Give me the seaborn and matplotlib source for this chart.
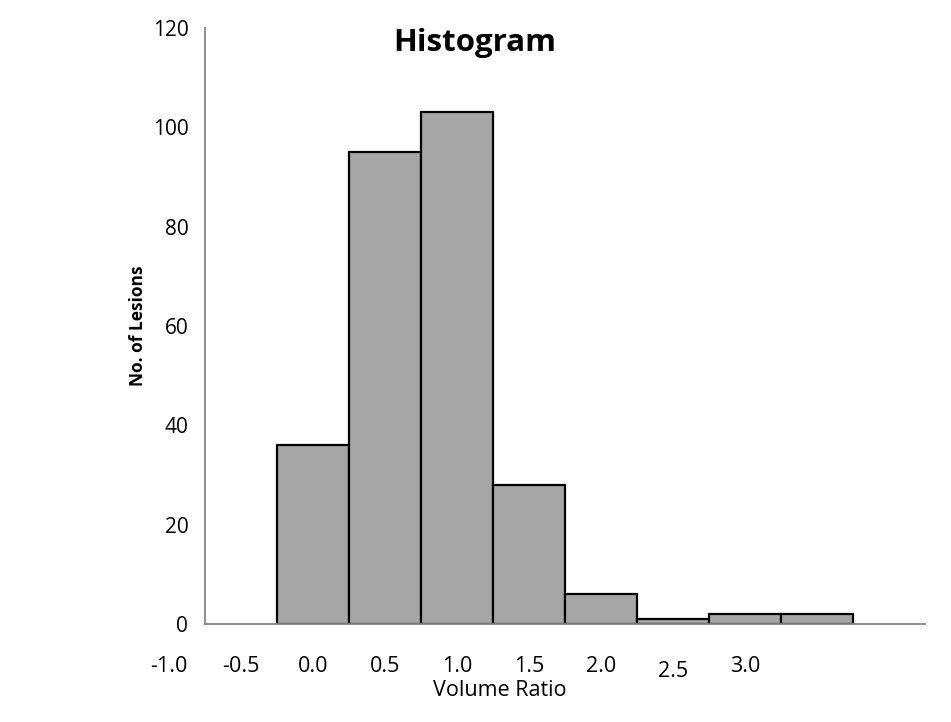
import matplotlib
matplotlib.use("Agg")
import matplotlib.pyplot as plt
import seaborn as sns
import numpy as np

# Data
bin_edges = [0.0, 0.5, 1.0, 1.5, 2.0, 2.5, 3.0, 3.5, 4.0]
counts = [36, 95, 103, 28, 6, 1, 2, 2]
tick_labels = ["-1.0", "-0.5", "0.0", "0.5", "1.0", "1.5", "2.0", "2.5", "3.0"]
y_ticks = [0, 20, 40, 60, 80, 100, 120]

sns.set_theme(style="white")
plt.rcParams['font.family'] = ['Open Sans', 'DejaVu Sans']

fig = plt.figure(figsize=(9.51, 7.22), dpi=100)
ax = fig.add_axes([205/951, 98/722, 720/951, 596/722])

centers = [(bin_edges[i] + bin_edges[i+1]) / 2 for i in range(len(counts))]
sns.histplot(x=centers, weights=counts, bins=bin_edges, ax=ax,
             color="#a6a6a6", edgecolor="black", linewidth=1.6, alpha=1)

ax.set_xlim(-0.5, 4.5)
ax.set_ylim(0, 120)
ax.set_yticks(y_ticks)
ax.set_yticklabels([str(v) for v in y_ticks], fontsize=15, color="black")
ax.set_xticks(np.arange(-0.5, 4.51, 0.5))
ax.set_xticklabels([])

for s in ["top", "right"]:
    ax.spines[s].set_visible(False)
for s in ["left", "bottom"]:
    ax.spines[s].set_color("#868686")
    ax.spines[s].set_linewidth(1.3)
ax.tick_params(axis="both", direction="out", length=6, width=1.3, color="#868686")
ax.tick_params(axis="y", pad=6)

# category labels (offset like the original)
for i, lab in enumerate(tick_labels):
    xpos = -0.75 + 0.5 * i
    ypos = -8.6 if lab != "2.5" else -9.6
    ax.text(xpos, ypos, lab, ha="center", va="center", fontsize=15.5, color="black")

ax.set_ylabel("")
ax.set_xlabel("")
fig.text(500/951, 1 - 690/722, "Volume Ratio", ha="center", va="center", fontsize=15.5, color="black")
fig.text(138/951, 1 - 326/722, "No. of Lesions", ha="center", va="center", rotation=90,
         fontsize=12.5, fontweight="bold", color="black")
fig.text(475/951, 1 - 43/722, "Histogram", ha="center", va="center", fontsize=22.5,
         fontweight="bold", color="black")

fig.savefig("out.png", dpi=100)
